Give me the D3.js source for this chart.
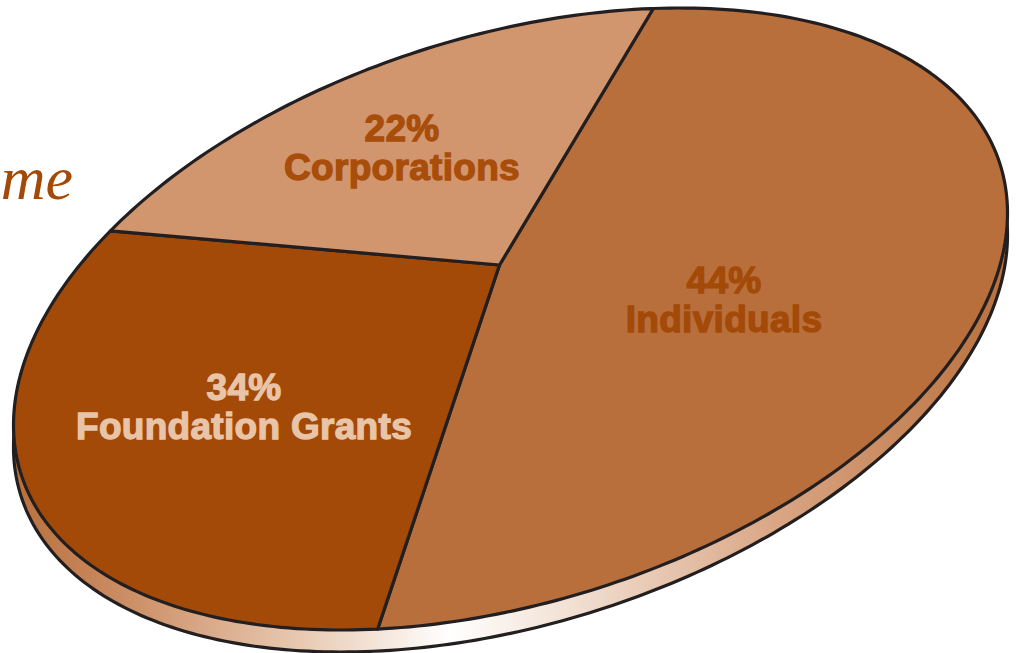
<!DOCTYPE html>
<html><head><meta charset="utf-8">
<script src="https://cdn.jsdelivr.net/npm/d3@7"></script>
<style>html,body{margin:0;padding:0;background:#fff;overflow:hidden}svg{display:block}</style>
</head><body><svg id="c" width="1016" height="653"></svg>
<script>
const categories = ["Individuals", "Foundation Grants", "Corporations"];
const values = [44, 34, 22];

const svg = d3.select("#c");
const cx = 510.5, cy = 319, W = 497, H = 311, skew = 106, depth = 22;
const inner = Math.sqrt(H * H - skew * skew);
const apex = [499.5, 265];
const fills = ["#B86F3B", "#A34A08", "#D2966E"];
const labelFills = ["#A34A08", "#E8C4A8", "#A84D0A"];
const labelPos = [[724, 293, 332], [244, 400, 439], [402, 141, 180]];

const pie = d3.pie().sort(null).value(d => d)(values);
// pie angle -> parameter on the tilted rim, in degrees (perspective makes it non-linear)
const rim = d3.scaleLinear()
  .domain([0, pie[0].endAngle, pie[1].endAngle, 2 * Math.PI])
  .range([-73.3, 105.5, 216.4, 286.7]);
const pt = deg => {
  const t = deg * Math.PI / 180;
  return [cx + W * Math.cos(t), cy - skew * Math.cos(t) + inner * Math.sin(t)];
};
const line = d3.line();

const defs = svg.append("defs");
const grad = defs.append("linearGradient").attr("id", "side")
  .attr("gradientUnits", "userSpaceOnUse").attr("x1", 12).attr("x2", 1009).attr("y1", 0).attr("y2", 0);
[[12, "#B86F3B"], [130, "#CC8F66"], [300, "#E8C9B2"], [450, "#FFFFFF"], [560, "#F3E3D7"], [780, "#D9A583"], [1009, "#B86F3B"]]
  .forEach(([x, c]) => grad.append("stop").attr("offset", (x - 12) / 997).attr("stop-color", c));

const ring = d3.range(0, 361, 1).map(pt);
svg.append("path").attr("d", line(ring) + "Z").attr("transform", `translate(0,${depth})`)
  .attr("fill", "url(#side)").attr("stroke", "#231F20").attr("stroke-width", 3.2);

svg.selectAll("path.slice").data(pie).join("path").attr("class", "slice")
  .attr("d", d => {
    const a = rim(d.startAngle), b = rim(d.endAngle);
    const steps = d3.range(a, b, 1).concat([b]).map(pt);
    return line([apex, ...steps]) + "Z";
  })
  .attr("fill", (d, i) => fills[i])
  .attr("stroke", "#231F20").attr("stroke-width", 3.2).attr("stroke-linejoin", "round");

const lab = svg.selectAll("g.lab").data(pie).join("g").attr("class", "lab")
  .attr("font-family", "'Liberation Sans',Arial,sans-serif").attr("font-weight", "bold")
  .attr("font-size", 37).attr("letter-spacing", 0.3).attr("text-anchor", "middle")
  .attr("fill", (d, i) => labelFills[i]).attr("stroke", (d, i) => labelFills[i]).attr("stroke-width", 1.3);
lab.append("text").attr("x", (d, i) => labelPos[i][0]).attr("y", (d, i) => labelPos[i][1]).text(d => d.value + "%");
lab.append("text").attr("x", (d, i) => labelPos[i][0]).attr("y", (d, i) => labelPos[i][2]).text((d, i) => categories[i]);

svg.append("text").attr("x", 73).attr("y", 199).attr("text-anchor", "end")
  .attr("font-family", "'Liberation Serif',serif").attr("font-style", "italic")
  .attr("font-size", 62).attr("fill", "#A34A08").text("me");
</script></body></html>
